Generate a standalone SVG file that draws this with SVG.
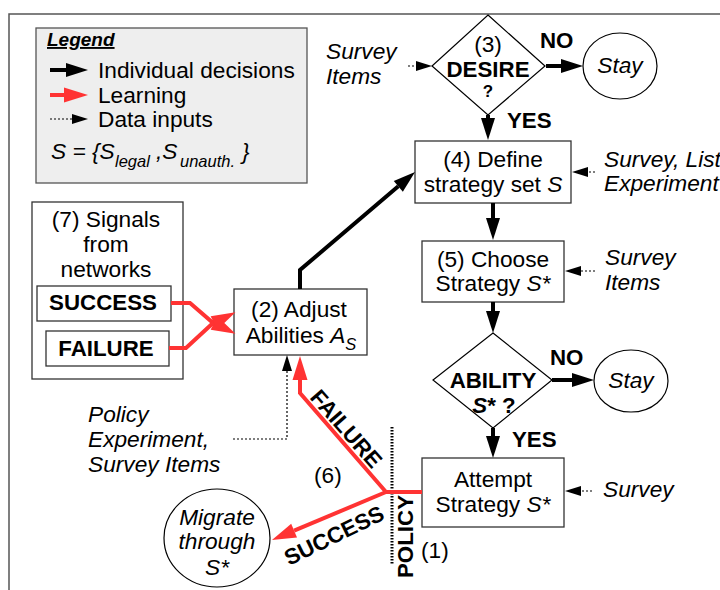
<svg xmlns="http://www.w3.org/2000/svg" width="720" height="590" viewBox="0 0 720 590">
<defs>
<style>
text{font-family:"Liberation Sans",Arial,sans-serif;font-size:22.7px;fill:#000}
.it{font-style:italic}
.b{font-weight:bold;font-size:22.3px}
.mid{text-anchor:middle}
.sub{font-size:16.5px}
.box{fill:#fff;stroke:#333;stroke-width:1.3}
.blk{fill:none;stroke:#000;stroke-width:4}
.red{fill:none;stroke:#ff3333;stroke-width:4}
.dot{fill:none;stroke:#000;stroke-width:1.2;stroke-dasharray:2 2}
</style>
<marker id="hb" markerUnits="userSpaceOnUse" markerWidth="23" markerHeight="16" refX="0" refY="7" orient="auto" overflow="visible">
<path d="M0,0 L22,7 L0,14 z" fill="#000"/>
</marker>
<marker id="hr" markerUnits="userSpaceOnUse" markerWidth="25" markerHeight="16" refX="0" refY="7.5" orient="auto" overflow="visible">
<path d="M0,0 L24,7.5 L0,15 z" fill="#ff3333"/>
</marker>
<marker id="hd" markerUnits="userSpaceOnUse" markerWidth="17" markerHeight="11" refX="0" refY="5" orient="auto" overflow="visible">
<path d="M0,0 L16,5 L0,10 z" fill="#000"/>
</marker>
</defs>
<rect width="720" height="590" fill="#fff"/>
<path d="M9,600 V14 H730" fill="none" stroke="#555" stroke-width="1.5"/>

<g id="legend">
<rect x="36" y="28" width="271" height="155" fill="#eeeeee" stroke="#555" stroke-width="1.3"/>
<text x="47" y="46" class="b it" style="font-size:19px;text-decoration:underline">Legend</text>
<line x1="50" y1="70" x2="66" y2="70" class="blk" marker-end="url(#hb)"/>
<text x="98" y="78">Individual decisions</text>
<line x1="50" y1="95" x2="64" y2="95" class="red" marker-end="url(#hr)"/>
<text x="98" y="103">Learning</text>
<line x1="50" y1="119" x2="72" y2="119" class="dot" marker-end="url(#hd)"/>
<text x="98" y="127">Data inputs</text>
<text y="159" class="it"><tspan x="51">S = {S</tspan><tspan x="115" dy="8" class="sub">legal</tspan><tspan x="156" dy="-8">,S</tspan><tspan x="180" dy="8" class="sub">unauth.</tspan><tspan x="242" dy="-8">}</tspan></text>
</g>

<g id="desire">
<polygon points="488,15 545,66 488,115 432,66" fill="#fff" stroke="#000" stroke-width="1.2"/>
<text x="488" y="52" class="mid">(3)</text>
<text x="488" y="77" class="mid b">DESIRE</text>
<text x="488" y="97" class="mid b" style="font-size:17px">?</text>
</g>
<g id="stay1">
<ellipse cx="620" cy="66" rx="37" ry="33" fill="#fff" stroke="#000" stroke-width="1.2"/>
<text x="620" y="73" class="mid it">Stay</text>
</g>
<g id="survey1">
<text x="326" y="59" class="it">Survey</text>
<text x="326" y="84" class="it">Items</text>
</g>

<g id="define">
<rect x="415" y="141" width="156" height="62" class="box"/>
<text x="493" y="167" class="mid">(4) Define</text>
<text x="493" y="192" class="mid">strategy set <tspan class="it">S</tspan></text>
</g>
<g id="survey2">
<text x="604" y="167" class="it">Survey, List</text>
<text x="604" y="191" class="it">Experiment</text>
</g>

<g id="choose">
<rect x="422" y="241" width="142" height="61" class="box"/>
<text x="493" y="267" class="mid">(5) Choose</text>
<text x="493" y="291" class="mid">Strategy <tspan class="it">S*</tspan></text>
</g>
<g id="survey3">
<text x="605" y="265" class="it">Survey</text>
<text x="605" y="290" class="it">Items</text>
</g>

<g id="ability">
<polygon points="493,333 552,380 493,428 433,380" fill="#fff" stroke="#000" stroke-width="1.2"/>
<text x="493" y="388" class="mid b">ABILITY</text>
<text x="494" y="413" class="mid b"><tspan class="it">S</tspan>* ?</text>
</g>
<g id="stay2">
<ellipse cx="631" cy="381" rx="37" ry="31" fill="#fff" stroke="#000" stroke-width="1.2"/>
<text x="631" y="388" class="mid it">Stay</text>
</g>

<g id="attempt">
<rect x="422" y="458" width="142" height="69" class="box"/>
<text x="493" y="487" class="mid">Attempt</text>
<text x="493" y="512" class="mid">Strategy <tspan class="it">S*</tspan></text>
</g>
<g id="survey4">
<text x="603" y="497" class="it">Survey</text>
</g>

<g id="adjust">
<rect x="234" y="289" width="133" height="66" class="box"/>
<text x="299" y="317" class="mid">(2) Adjust</text>
<text x="301" y="343" class="mid">Abilities <tspan class="it">A</tspan><tspan class="it sub" dy="7">S</tspan></text>
</g>

<g id="signals">
<rect x="32" y="202" width="151" height="177" class="box"/>
<text x="106" y="227" class="mid">(7) Signals</text>
<text x="106" y="252" class="mid">from</text>
<text x="106" y="277" class="mid">networks</text>
<rect x="37" y="286" width="134" height="35" class="box"/>
<text x="103" y="310" class="mid b">SUCCESS</text>
<rect x="46" y="331" width="123" height="35" class="box"/>
<text x="106" y="356" class="mid b">FAILURE</text>
</g>

<g id="policy-inputs">
<text x="88" y="422" class="it">Policy</text>
<text x="88" y="447" class="it">Experiment,</text>
<text x="88" y="472" class="it">Survey Items</text>
</g>

<g id="migrate">
<ellipse cx="217" cy="538" rx="53" ry="49" fill="#fff" stroke="#000" stroke-width="1.2"/>
<text x="217" y="525" class="mid it">Migrate</text>
<text x="217" y="549" class="mid it">through</text>
<text x="217" y="575" class="mid it">S*</text>
</g>

<g id="policy">
<line x1="392" y1="427" x2="392" y2="564" stroke="#000" stroke-width="3" stroke-dasharray="1.5 1.5"/>
<text transform="translate(413,578) rotate(-90)" class="b">POLICY</text>
<text x="421" y="558">(1)</text>
</g>

<g id="connectors">
<line x1="546" y1="66" x2="561" y2="66" class="blk" marker-end="url(#hb)"/>
<text x="540" y="48" class="b">NO</text>
<line x1="488" y1="115" x2="488" y2="118" class="blk" marker-end="url(#hb)"/>
<text x="507" y="128" class="b">YES</text>
<line x1="493" y1="203" x2="493" y2="218" class="blk" marker-end="url(#hb)"/>
<line x1="493" y1="302" x2="493" y2="311" class="blk" marker-end="url(#hb)"/>
<line x1="552" y1="380" x2="572" y2="380" class="blk" marker-end="url(#hb)"/>
<text x="550" y="365" class="b">NO</text>
<line x1="493" y1="428" x2="493" y2="436" class="blk" marker-end="url(#hb)"/>
<text x="512" y="447" class="b">YES</text>
<polyline points="300,289 300,270 398.3,186.3" class="blk" marker-end="url(#hb)"/>

<line x1="408" y1="66" x2="416" y2="66" class="dot" marker-end="url(#hd)"/>
<line x1="595" y1="172" x2="588" y2="172" class="dot" marker-end="url(#hd)"/>
<line x1="595" y1="271" x2="581" y2="271" class="dot" marker-end="url(#hd)"/>
<line x1="592" y1="491" x2="581" y2="491" class="dot" marker-end="url(#hd)"/>
<polyline points="233,439 287,439 287,371" class="dot" marker-end="url(#hd)"/>

<polyline points="171,303 190,303 212,322 214,323" class="red" marker-end="url(#hr)"/>
<polyline points="169,348 186,348 212,324 214,323" class="red" marker-end="url(#hr)"/>
<line x1="422" y1="492" x2="386" y2="492" class="red"/>
<polyline points="386,492 300,393 300,380" class="red" marker-end="url(#hr)"/>
<line x1="386" y1="492" x2="294.1" y2="530.7" class="red" marker-end="url(#hr)"/>
<text transform="translate(309,398) rotate(48.7)" class="b">FAILURE</text>
<text transform="translate(289,566) rotate(-26)" class="b">SUCCESS</text>
<text x="314" y="483">(6)</text>
</g>
</svg>
